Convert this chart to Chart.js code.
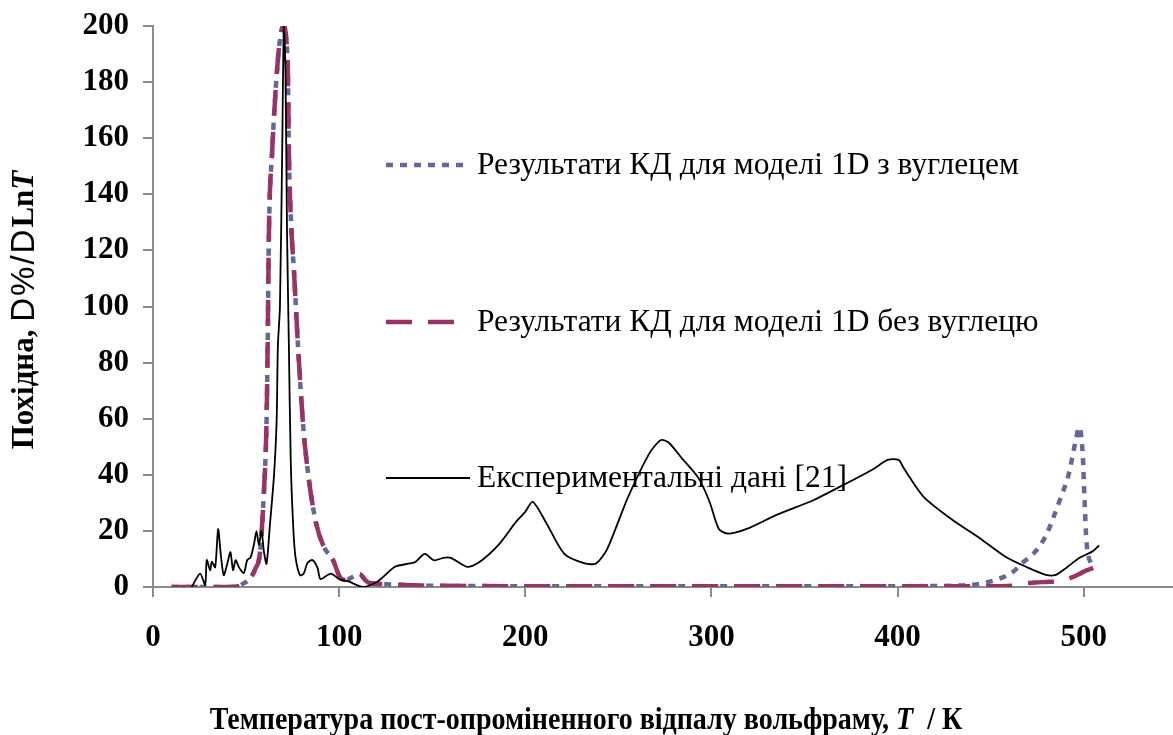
<!DOCTYPE html>
<html lang="uk">
<head>
<meta charset="utf-8">
<title>Похідна D%/DLnT</title>
<script src="https://cdn.jsdelivr.net/npm/chart.js@4.4.1/dist/chart.umd.min.js"></script>
<style>
  html, body { margin: 0; padding: 0; background: #fff; }
  #wrap { width: 1173px; height: 735px; }
</style>
</head>
<body>
<div id="wrap"><canvas id="tdsChart" width="1173" height="735"></canvas></div>
<script>
// Experimental data [21]
const expT = [20.8, 25.3, 28, 28.9, 30.7, 31.6, 33.4, 35, 36.5, 38, 39.8, 41.6, 43, 44.4, 46.2, 48.8, 50.6, 52.4,
  54.2, 55.6, 56.9, 58.3, 59.6, 61, 62.8, 65, 66.4, 67.1, 68.2, 69.4, 70.3, 71.2, 72, 73, 74, 75.4, 76.6, 79,
  81, 83, 85.7, 88.4, 90, 95.5, 100, 105, 113, 120.7, 130, 138, 141, 146, 151, 156, 160, 168.7, 175, 186, 195,
  200, 204, 211, 221, 232, 238, 244, 255, 267, 273, 277, 284, 293, 299, 304, 309, 319, 335, 355, 375, 386.7,
  394.7, 400.6, 403, 406.6, 414.4, 429.4, 444, 458, 469, 479.7, 485, 490.6, 497.6, 504.8, 508.3];
const expD = [0, 4.8, 0.8, 9.6, 6, 9, 7, 20.6, 11, 4.2, 8, 12.4, 6, 9.6, 7, 5, 9.6, 10.5,
  15, 19.9, 15, 20, 12.5, 8.3, 22, 39.7, 58.8, 86, 100, 155, 200, 182, 127, 86, 45, 20.6, 10.5, 4.2,
  4.8, 8.6, 9.6, 6.8, 2.8, 4.8, 2.8, 2, 0, 2, 7.2, 8.4, 8.9, 11.8, 9.5, 10.4, 10.4, 7.2, 8.7, 15.3, 23.2,
  26.8, 30.4, 23.2, 11.8, 8.4, 8.4, 13.5, 31.7, 48, 52.4, 51.5, 46, 38.9, 30.4, 20.7, 19, 20.7, 25.7, 31, 37.8, 41.9,
  45.3, 45.3, 42.8, 39, 31.9, 24, 17.5, 10.8, 7.2, 4.3, 4.3, 6.8, 10.3, 12.7, 14.8];

// MD results for the 1D model (shared temperature grid)
const modelT = [10, 40, 46, 48, 52, 55, 57.5, 59.6, 61, 61.6, 62.3, 64, 66.4, 68, 70, 71.5, 72.5, 73, 74.4, 75.7,
  77.9, 80.5, 82.5, 87, 91.3, 96.7, 101, 104, 107, 111, 114, 116, 125, 145, 200, 300, 400, 433, 449, 462,
  467, 474, 480, 483, 487.7, 492, 495.8, 497.6, 499.5, 500.5, 501.5, 504, 506.5, 508];
const withCarbon = [0, 0, 0.3, 1, 3, 6.5, 12.4, 34, 59, 86, 127, 155, 182, 194, 200, 196, 182, 155, 127, 113,
  86, 59, 45, 24.6, 15, 9.6, 3, 2.5, 3.5, 4.6, 2.5, 1.5, 1, 0.5, 0.3, 0.3, 0.3, 0.5, 1.8, 5.4,
  8.5, 12.6, 18.6, 23.5, 31.9, 40.3, 52.4, 57, 47.4, 30.7, 16.4, 7.8, null, null];
const withoutCarbon = [0, 0, 0.3, 1, 3, 6.5, 12.4, 34, 59, 86, 127, 155, 182, 194, 200, 196, 182, 155, 127, 113,
  86, 59, 45, 24.6, 15, 9.6, 3, 2.5, 3.5, 4.6, 2.5, 1.5, 1, 0.5, 0.3, 0.3, 0.3, 0.3, 0.3, 0.5,
  1.2, 1.6, 1.8, 1.9, 2, 3, 4, 4.6, 5.3, 5.6, 5.9, 6.5, 7.2, 7.6];

const xTicks = [0, 100, 200, 300, 400, 500];
const yTicks = [0, 20, 40, 60, 80, 100, 120, 140, 160, 180, 200];

const names = [
  'Результати КД для моделі 1D з вуглецем',
  'Результати КД для моделі 1D без вуглецю',
  'Експериментальні дані [21]'
];

const serif = '"Liberation Serif", "Times New Roman", serif';
const sans = '"Liberation Sans", Arial, sans-serif';
Chart.defaults.font.family = serif;
Chart.defaults.color = '#000';

const pts = (xs, ys) => xs.map((x, i) => ({ x: x, y: ys[i] }));

// draws a run of differently styled text pieces; p.gap adds space after each char
function drawRich(ctx, parts, x, y, align) {
  const w = p => {
    ctx.font = p.f;
    if (!p.gap) return ctx.measureText(p.t).width;
    return [...p.t].reduce((s, c) => s + ctx.measureText(c).width + p.gap, 0);
  };
  const total = parts.reduce((s, p) => s + w(p), 0);
  let cx = align === 'center' ? x - total / 2 : x;
  ctx.textBaseline = 'middle';
  ctx.textAlign = 'left';
  parts.forEach(p => {
    ctx.font = p.f;
    if (p.gap) {
      [...p.t].forEach(c => {
        ctx.fillText(c, cx, y);
        cx += ctx.measureText(c).width + p.gap;
      });
    } else {
      ctx.fillText(p.t, cx, y);
      cx += ctx.measureText(p.t).width;
    }
  });
}

const extras = {
  id: 'extras',
  afterDraw(chart) {
    const ctx = chart.ctx;
    ctx.save();
    ctx.fillStyle = '#000';

    // x axis title (slightly condensed, as in the source)
    ctx.save();
    ctx.translate(586, 721);
    ctx.scale(0.875, 1);
    drawRich(ctx, [
      { t: 'Температура пост-опроміненного відпалу вольфраму, ', f: 'bold 32px ' + serif },
      { t: 'T', f: 'italic bold 32px ' + serif },
      { t: '  / К', f: 'bold 32px ' + serif }
    ], 0, 0, 'center');
    ctx.restore();

    // y axis title (rotated)
    ctx.save();
    ctx.translate(25, 310);
    ctx.rotate(-Math.PI / 2);
    drawRich(ctx, [
      { t: 'Похідна, ', f: 'bold 31px ' + serif },
      { t: 'D%/D', f: '33px ' + sans, gap: 2 },
      { t: 'Ln', f: 'bold 31px ' + serif },
      { t: 'T', f: 'italic bold 31px ' + serif }
    ], 0, 0, 'center');
    ctx.restore();

    // legend inside plot
    const rows = [165, 322, 478];
    [2, 1, 0].forEach((di, r) => {
      const ds = chart.data.datasets[di];
      const y = rows[r];
      ctx.save();
      ctx.strokeStyle = ds.borderColor;
      ctx.lineWidth = ds.borderWidth;
      ctx.setLineDash(ds.borderDash || []);
      ctx.beginPath();
      ctx.moveTo(386, y);
      ctx.lineTo(470, y);
      ctx.stroke();
      ctx.restore();
      ctx.font = '31.5px ' + serif;
      ctx.textBaseline = 'middle';
      ctx.textAlign = 'left';
      ctx.fillText(ds.label, 477, y + 1);
    });
    ctx.restore();
  }
};

new Chart(document.getElementById('tdsChart'), {
  type: 'line',
  data: {
    datasets: [
      {
        label: names[2],
        data: pts(expT, expD),
        borderColor: '#000',
        borderWidth: 1.8,
        pointRadius: 0,
        tension: 0.25
      },
      {
        label: names[1],
        data: pts(modelT, withoutCarbon),
        borderColor: '#993366',
        borderWidth: 4.5,
        borderDash: [26, 16],
        pointRadius: 0,
        cubicInterpolationMode: 'monotone'
      },
      {
        label: names[0],
        data: pts(modelT, withCarbon),
        borderColor: '#666699',
        borderWidth: 4.5,
        borderDash: [7, 7],
        pointRadius: 0,
        cubicInterpolationMode: 'monotone'
      }
    ]
  },
  options: {
    responsive: false,
    devicePixelRatio: 1,
    animation: false,
    layout: { padding: { top: 26, right: 0, bottom: 0, left: 0 } },
    plugins: { legend: { display: false }, tooltip: { enabled: false } },
    scales: {
      x: {
        type: 'linear',
        min: 0,
        max: 548,
        afterBuildTicks: s => { s.ticks = xTicks.map(v => ({ value: v })); },
        afterFit: s => { s.height = 148; s.paddingLeft = 0; s.paddingRight = 0; },
        grid: { drawOnChartArea: false, tickLength: 10, color: '#8c8c8c', lineWidth: 2 },
        border: { color: '#8c8c8c', width: 2 },
        ticks: { font: { size: 31, weight: 'bold' }, padding: 22, maxRotation: 0 }
      },
      y: {
        min: 0,
        max: 200,
        afterBuildTicks: s => { s.ticks = yTicks.map(v => ({ value: v })); },
        afterFit: s => { s.width = 153; s.paddingTop = 0; s.paddingBottom = 0; },
        grid: { drawOnChartArea: false, tickLength: 10, color: '#8c8c8c', lineWidth: 2 },
        border: { color: '#8c8c8c', width: 2 },
        ticks: { font: { size: 31, weight: 'bold' }, padding: 14 }
      }
    }
  },
  plugins: [extras]
});
</script>
</body>
</html>
